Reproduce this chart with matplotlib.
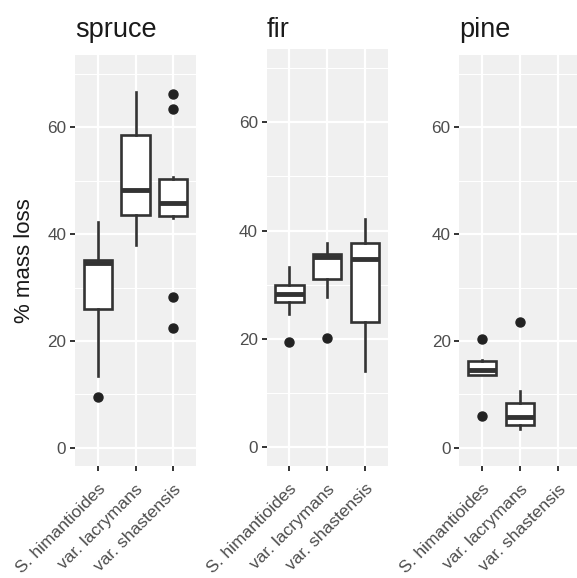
import matplotlib.pyplot as plt

plt.rcParams['font.family'] = ['Liberation Sans', 'DejaVu Sans']

categories = ['S. himantioides', 'var. lacrymans', 'var. shastensis']
woods = ['spruce', 'fir', 'pine']

# boxplot stats (None = no data)
whisk_lo = {'spruce': [13.4, 38.0, 43.1], 'fir': [24.6, 27.7, 14.1], 'pine': [13.6, 3.5, None]}
q1 = {'spruce': [26.0, 43.6, 43.3], 'fir': [26.8, 31.1, 23.1], 'pine': [13.7, 4.3, None]}
median = {'spruce': [34.5, 48.3, 45.9], 'fir': [28.3, 35.1, 34.8], 'pine': [14.6, 5.8, None]}
q3 = {'spruce': [35.1, 58.5, 50.3], 'fir': [30.0, 35.7, 37.8], 'pine': [16.2, 8.4, None]}
whisk_hi = {'spruce': [42.3, 66.7, 50.7], 'fir': [33.3, 37.7, 42.1], 'pine': [16.5, 10.7, None]}
outliers = {'spruce': [[9.5], [], [66.2, 63.4, 28.3, 22.5]],
            'fir': [[19.4], [20.2], []],
            'pine': [[20.3, 5.9], [23.5], []]}

W, H = 577, 578
fig = plt.figure(figsize=(W / 100, H / 100), dpi=100)

# panel boxes in pixels: left, right, top, bottom
panels = {'spruce': (75, 196, 55.2, 466.4),
          'fir': (266.6, 387.8, 49.2, 466.3),
          'pine': (459.4, 580.5, 55.2, 466.4)}

dark = '#333333'
for wood in woods:
    l, r, t, b = panels[wood]
    ax = fig.add_axes([l / W, 1 - b / H, (r - l) / W, (b - t) / H])
    ax.set_facecolor('#F0F0F0')
    for s in ax.spines.values():
        s.set_visible(False)

    stats = []
    pos = []
    for i in range(len(categories)):
        if median[wood][i] is None:
            continue
        stats.append({'med': median[wood][i], 'q1': q1[wood][i], 'q3': q3[wood][i],
                      'whislo': whisk_lo[wood][i], 'whishi': whisk_hi[wood][i],
                      'fliers': outliers[wood][i]})
        pos.append(i)
    ax.bxp(stats, positions=pos, widths=0.75, showcaps=False, patch_artist=True,
           boxprops=dict(facecolor='white', edgecolor=dark, linewidth=1.9),
           whiskerprops=dict(color=dark, linewidth=1.9),
           medianprops=dict(color=dark, linewidth=3.5, solid_capstyle='butt'),
           flierprops=dict(marker='o', markerfacecolor='#222222', markeredgecolor='#222222',
                           markersize=6.5),
           zorder=3)

    ax.set_xlim(-0.6, 2.6)
    ax.set_ylim(-3.5, 73.5)
    ax.set_yticks([0, 20, 40, 60])
    ax.set_yticks([10, 30, 50, 70], minor=True)
    ax.set_xticks(range(len(categories)))
    ax.set_xticklabels(categories, rotation=45, ha='right', va='top',
                       rotation_mode='anchor', fontsize=12.5)
    ax.grid(which='major', color='white', linewidth=1.6, zorder=0)
    ax.grid(which='minor', axis='y', color='white', linewidth=0.8, zorder=0)
    ax.set_axisbelow(True)
    ax.tick_params(which='major', length=3.8, width=1.4, color=dark,
                   labelcolor='#4D4D4D')
    ax.tick_params(axis='y', labelsize=12.3, pad=2.5)
    ax.tick_params(axis='x', pad=7)
    ax.tick_params(which='minor', length=0)

    fig.text(l / W, 1 - 37.3 / H, wood, fontsize=19.5, color='#1A1A1A',
             ha='left', va='baseline')

fig.text(25 / W, 1 - 260.7 / H, '% mass loss', fontsize=16, rotation=90,
         ha='center', va='center', color='#1A1A1A')

fig.savefig('out.png', dpi=100)
